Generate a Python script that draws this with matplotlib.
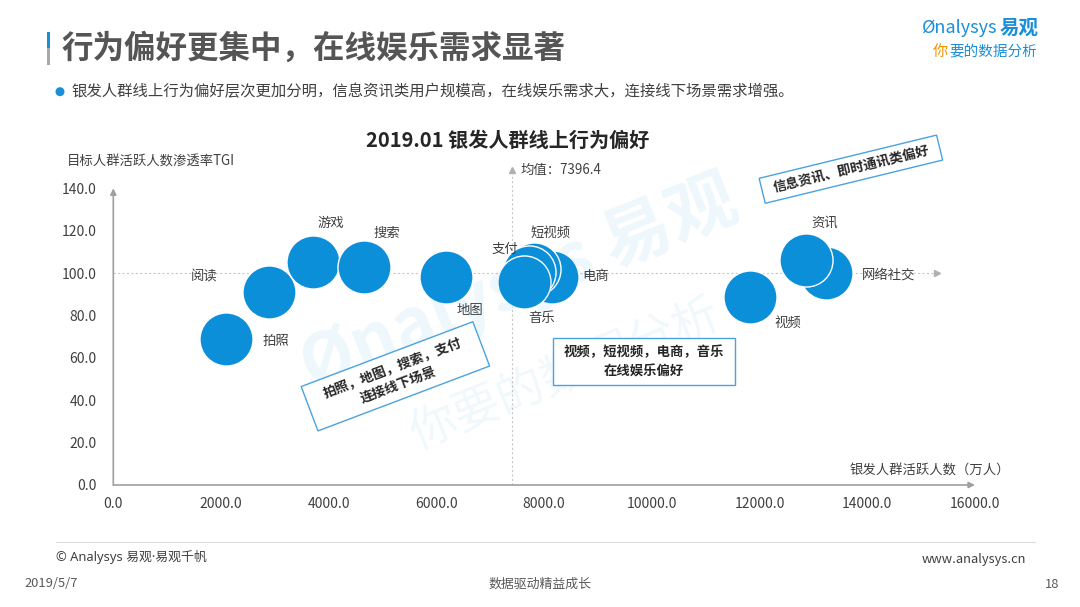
"""
银发人群线上行为偏好 气泡图 (2019.01)
复刻易观分析报告第18页。
"""

import matplotlib
matplotlib.use("Agg")
import matplotlib.pyplot as plt
from matplotlib.patches import Rectangle, Circle
from matplotlib.transforms import IdentityTransform

plt.rcParams["font.family"] = ["Noto Sans CJK SC", "DejaVu Sans"]

# ---- 数据 ----
categories = ["拍照", "阅读", "游戏", "搜索", "地图", "电商", "短视频", "支付",
              "音乐", "视频", "网络社交", "资讯"]
active_users = [2090, 2900, 3710, 4650, 6185, 8150, 7820, 7725,
                7635, 11820, 13225, 12870]        # 万人
tgi = [68.7, 91.1, 105.3, 102.9, 98.2, 98.1, 101.8, 100.4,
       95.7, 88.6, 99.8, 106.1]
mean_users = 7396.4
tgi_base = 100.0

x_ticks = list(range(0, 16001, 2000))
y_ticks = list(range(0, 141, 20))

# 标签相对气泡中心的偏移 (像素, y 向上)
label_offsets = {
    "拍照": (50, -2), "阅读": (-65, 15), "游戏": (18, 39), "搜索": (23, 34),
    "地图": (24, -33), "电商": (43, 1), "短视频": (16, 36), "支付": (-24, 23),
    "音乐": (17, -36), "视频": (38, -26), "网络社交": (63, -1), "资讯": (18, 37),
}

W, H = 1080, 607
BLUE = "#0b8fd9"
GRAY_TXT = "#404040"


def fx(x):
    return x / W


def fy(y):
    return 1 - y / H


fig = plt.figure(figsize=(W / 100, H / 100), dpi=100)
fig.patch.set_facecolor("white")

# ---- 水印 ----
fig.text(fx(520), fy(285), "Ønalysys 易观", fontsize=50, fontweight="bold",
         color=BLUE, alpha=0.07, rotation=22, ha="center", va="center",
         rotation_mode="anchor", zorder=0)
fig.text(fx(565), fy(375), "你要的数据分析", fontsize=34, color=BLUE,
         alpha=0.06, rotation=22, ha="center", va="center",
         rotation_mode="anchor", zorder=0)

# ---- 坐标区 ----
x0, x1, y0, y1 = 113.3, 975, 485, 188.3
ax = fig.add_axes([fx(x0), fy(y0), (x1 - x0) / W, (y0 - y1) / H])
ax.set_facecolor("none")
ax.set_xlim(0, 16000)
ax.set_ylim(0, 140)
for s in ax.spines.values():
    s.set_visible(False)

ax.set_xticks(x_ticks)
ax.set_xticklabels([f"{v:.1f}" for v in x_ticks])
ax.set_yticks(y_ticks)
ax.set_yticklabels([f"{v:.1f}" for v in y_ticks])
ax.tick_params(axis="both", length=0, labelsize=10, labelcolor=GRAY_TXT)
ax.tick_params(axis="x", pad=9)
ax.tick_params(axis="y", pad=12)

# 坐标轴箭头
arrow = dict(arrowstyle="-|>", color="#a0a0a0", lw=1.2, mutation_scale=9,
             shrinkA=0, shrinkB=0)
ax.annotate("", xy=(16000, 0), xytext=(0, 0), arrowprops=arrow,
            annotation_clip=False)
ax.annotate("", xy=(0, 140), xytext=(0, 0), arrowprops=arrow,
            annotation_clip=False)

# 参考线：TGI=100 与 均值
ref_c = "#c8c8c8"
ax.plot([0, 15300], [tgi_base, tgi_base], ls=(0, (2, 2)), lw=0.8,
        color=ref_c, clip_on=False, zorder=1)
ax.plot([15300], [tgi_base], marker=">", ms=5, color="#b0b0b0",
        clip_on=False, zorder=1)
ax.plot([mean_users, mean_users], [0, 148.6], ls=(0, (2, 2)), lw=0.8,
        color=ref_c, clip_on=False, zorder=1)
ax.plot([mean_users], [148.6], marker="^", ms=5, color="#b0b0b0",
        clip_on=False, zorder=1)
ax.annotate(f"均值：{mean_users}", xy=(mean_users, 148.6), xytext=(9, 0),
            textcoords="offset pixels", ha="left", va="center",
            fontsize=9.6, color=GRAY_TXT, annotation_clip=False)

# 气泡
ax.scatter(active_users, tgi, s=1460, color=BLUE, edgecolors="white",
           linewidths=1.0, zorder=3, clip_on=False)
for name, xv, yv in zip(categories, active_users, tgi):
    dx, dy = label_offsets[name]
    ax.annotate(name, xy=(xv, yv), xytext=(dx, dy), textcoords="offset pixels",
                ha="center", va="center", fontsize=9.6, color=GRAY_TXT,
                zorder=4, annotation_clip=False)

# ---- 标注框 ----
notes = [
    ((395.4, 376.3), 183.5, 47.4, 20.7, "拍照，地图，搜索，支付\n连接线下场景"),
    ((643.9, 361.7), 182.3, 46.7, 0.0, "视频，短视频，电商，音乐\n在线娱乐偏好"),
    ((850.9, 169.2), 182.6, 25.7, 13.7, "信息资讯、即时通讯类偏好"),
]
for (cx, cy), bw, bh, ang, txt in notes:
    dcx, dcy = cx, H - cy
    fig.add_artist(Rectangle((dcx - bw / 2, dcy - bh / 2), bw, bh, angle=ang,
                             rotation_point="center", transform=IdentityTransform(),
                             facecolor="white", edgecolor="#4aa3df", lw=1.0,
                             zorder=5))
    fig.text(fx(cx), fy(cy), txt, fontsize=9.6, fontweight="bold",
             color="#262626", ha="center", va="center", multialignment="center",
             rotation=ang, rotation_mode="anchor", linespacing=1.45, zorder=6)

# ---- 轴标题与图表标题 ----
fig.text(fx(507.5), fy(140), "2019.01 银发人群线上行为偏好", fontsize=14.5,
         fontweight="bold", color="#262626", ha="center", va="center")
fig.text(fx(66.7), fy(161.7), "目标人群活跃人数渗透率TGI", fontsize=9.6,
         color=GRAY_TXT, ha="left", va="center")
fig.text(fx(1010), fy(471), "银发人群活跃人数（万人）", fontsize=9.6,
         color=GRAY_TXT, ha="right", va="center")

# ---- 页眉 ----
fig.add_artist(Rectangle((47.3, H - 48.3), 3, 16.6, transform=IdentityTransform(),
                         facecolor="#1a8fd8", lw=0))
fig.add_artist(Rectangle((47.3, H - 65), 3, 16.7, transform=IdentityTransform(),
                         facecolor="#a8a8a8", lw=0))
fig.text(fx(61.7), fy(48.5), "行为偏好更集中，在线娱乐需求显著", fontsize=22.7,
         fontweight="bold", color="#555555", ha="left", va="center")
fig.add_artist(Circle((60, H - 91.7), 4.5, transform=IdentityTransform(),
                      facecolor="#1a8fd8", lw=0))
fig.text(fx(71.7), fy(91.7),
         "银发人群线上行为偏好层次更加分明，信息资讯类用户规模高，在线娱乐需求大，连接线下场景需求增强。",
         fontsize=11.1, color=GRAY_TXT, ha="left", va="center")

# logo
fig.text(fx(997), fy(28), "Ønalysys", fontsize=13, style="italic",
         color="#1a8fd8", ha="right", va="center")
fig.text(fx(1000), fy(28), "易观", fontsize=14, fontweight="bold",
         color="#1a8fd8", ha="left", va="center")
fig.text(fx(933), fy(51), "你", fontsize=11, style="italic",
         color="#f29400", ha="left", va="center")
fig.text(fx(949), fy(51), "要的数据分析", fontsize=10.5, style="italic",
         color="#1a8fd8", ha="left", va="center")

# ---- 页脚 ----
fig.add_artist(plt.Line2D([fx(56), fx(1035)], [fy(542.3), fy(542.3)],
                          transform=fig.transFigure, color="#dcdcdc", lw=0.8))
fig.text(fx(56), fy(556.7), "© Analysys 易观·易观千帆", fontsize=9.3,
         family=["Noto Sans", "Noto Sans CJK SC"],
         color="#404040", ha="left", va="center")
fig.text(fx(1026), fy(559.3), "www.analysys.cn", fontsize=9.3,
         color="#404040", ha="right", va="center")
fig.text(fx(24), fy(583.3), "2019/5/7", fontsize=9.3, color="#595959",
         ha="left", va="center")
fig.text(fx(540), fy(584), "数据驱动精益成长", fontsize=9.3, color="#595959",
         ha="center", va="center")
fig.text(fx(1059.3), fy(584.3), "18", fontsize=9.3, color="#595959",
         ha="right", va="center")

fig.savefig("out.png", dpi=100, facecolor="white")
